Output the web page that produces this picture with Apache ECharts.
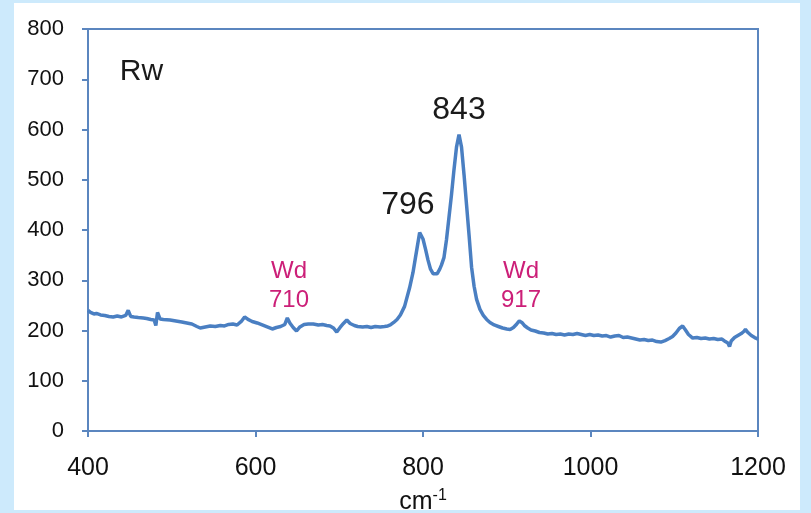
<!DOCTYPE html>
<html><head><meta charset="utf-8">
<script src="https://cdn.jsdelivr.net/npm/echarts@6/dist/echarts.min.js"></script>
<style>html,body{margin:0;padding:0;background:#cdeafc;}#c{width:811px;height:513px;}</style>
</head><body><div id="c"></div>
<script>
var wavenumbers = [400,403,407,410,415,420,425,430,435,440,445,448,451,455,460,466,470,475,479,481,483,486,490,498,505,512,518,524,530,534,540,546,552,558,563,568,573,578,583,587,591,596,602,608,614,620,625,630,635,638,641,645,649,653,658,663,669,675,680,685,689,693,697,701,705,709,713,718,722,728,733,738,743,749,754,758,761,765,769,773,778,784,788,791,793,795,796,798,800,803,806,809,812,814,817,820,822,825,828,831,834,837,840,843,846,849,852,855,858,861,864,868,872,876,880,885,890,895,900,904,908,912,915,918,921,925,929,934,939,944,949,954,959,964,969,974,979,984,989,994,999,1004,1009,1014,1019,1024,1029,1034,1039,1044,1049,1054,1059,1064,1069,1074,1079,1084,1089,1094,1098,1102,1106,1110,1113,1117,1122,1127,1132,1137,1142,1147,1152,1157,1161,1164,1166,1168,1172,1176,1180,1183,1185,1188,1192,1196,1200];
var intensity = [240,236,233,234,231,230,228,227,229,227,230,240,228,227,226,225,224,222,221,210,236,223,222,221,219,217,215,213,208,205,207,209,208,210,209,212,213,211,218,227,222,218,215,211,207,203,206,208,212,225,215,206,199,207,212,213,213,211,212,210,209,205,197,206,214,221,214,210,208,207,208,206,208,207,208,209,211,216,222,231,248,285,315,345,365,385,395,392,382,362,340,322,313,310,313,322,330,345,380,425,470,520,565,590,565,510,450,390,326,288,262,242,230,222,216,211,208,205,203,202,206,213,219,216,210,205,201,199,196,195,193,194,192,193,191,193,192,194,192,190,192,190,191,189,190,187,189,190,186,187,185,183,181,182,180,181,178,177,180,184,188,195,204,209,202,192,185,186,184,185,183,184,182,183,178,175,168,179,186,190,194,198,202,196,190,186,183];
var xTicks = [400,600,800,1000,1200];
var yTicks = [0,100,200,300,400,500,600,700,800];
var annotations = [
  {text:'Rw', x:438, y:714, color:'#1a1a1a', size:30, align:'left'},
  {text:'843', x:843, y:639, color:'#1a1a1a', size:32, align:'center'},
  {text:'796', x:782, y:450, color:'#1a1a1a', size:32, align:'center'},
  {text:'Wd\n710', x:640, y:289, color:'#cc1f78', size:24, align:'center'},
  {text:'Wd\n917', x:917, y:289, color:'#cc1f78', size:24, align:'center'}
];

var series = wavenumbers.map(function(w,i){return [w,intensity[i]];});
var axisColor = '#5b86bf';
var chart = echarts.init(document.getElementById('c'), null, {renderer:'canvas'});
chart.setOption({
  backgroundColor:'#cdeafc',
  animation:false,
  textStyle:{fontFamily:'Liberation Sans'},
  graphic:[{type:'rect', z:-10, shape:{x:14,y:3,width:786,height:507}, style:{fill:'#ffffff'}}],
  grid:{left:88, right:53, top:29, bottom:82, outerBoundsMode:'none', containLabel:false, show:true, borderColor:axisColor, borderWidth:2, backgroundColor:'#ffffff'},
  xAxis:{type:'value', min:xTicks[0], max:xTicks[xTicks.length-1], interval:xTicks[1]-xTicks[0],
    axisLine:{show:true, onZero:false, lineStyle:{color:axisColor,width:2}},
    axisTick:{show:true, inside:false, length:6, lineStyle:{color:axisColor,width:2}},
    splitLine:{show:false},
    axisLabel:{color:'#111', fontSize:25, margin:25, fontFamily:'Liberation Sans', formatter:function(v){return String(v);}},
    name:'cm{sup|-1}', nameLocation:'middle', nameGap:57,
    nameTextStyle:{color:'#111', fontSize:25, fontFamily:'Liberation Sans',
      rich:{sup:{fontSize:16, verticalAlign:'top', padding:[0,0,12,0], color:'#111', fontFamily:'Liberation Sans'}}}
  },
  yAxis:{type:'value', min:yTicks[0], max:yTicks[yTicks.length-1], interval:yTicks[1]-yTicks[0],
    axisLine:{show:true, lineStyle:{color:axisColor,width:2}},
    axisTick:{show:true, inside:false, length:6, lineStyle:{color:axisColor,width:2}},
    splitLine:{show:false},
    axisLabel:{color:'#111', fontSize:22, margin:24, fontFamily:'Liberation Sans'}
  },
  series:[
    {type:'line', data:series, showSymbol:false, symbol:'none', lineStyle:{color:'#4a7fc2', width:3.5}, z:3},
    {type:'scatter', symbolSize:0, z:4, itemStyle:{opacity:1, color:'rgba(0,0,0,0)'},
      data:annotations.map(function(a){return {value:[a.x,a.y],
        label:{show:true, position:'inside', formatter:a.text, color:a.color, fontSize:a.size, align:a.align, verticalAlign:'middle', lineHeight:Math.round(a.size*1.2), fontFamily:'Liberation Sans', opacity:1}};})
    }
  ]
});
</script></body></html>
